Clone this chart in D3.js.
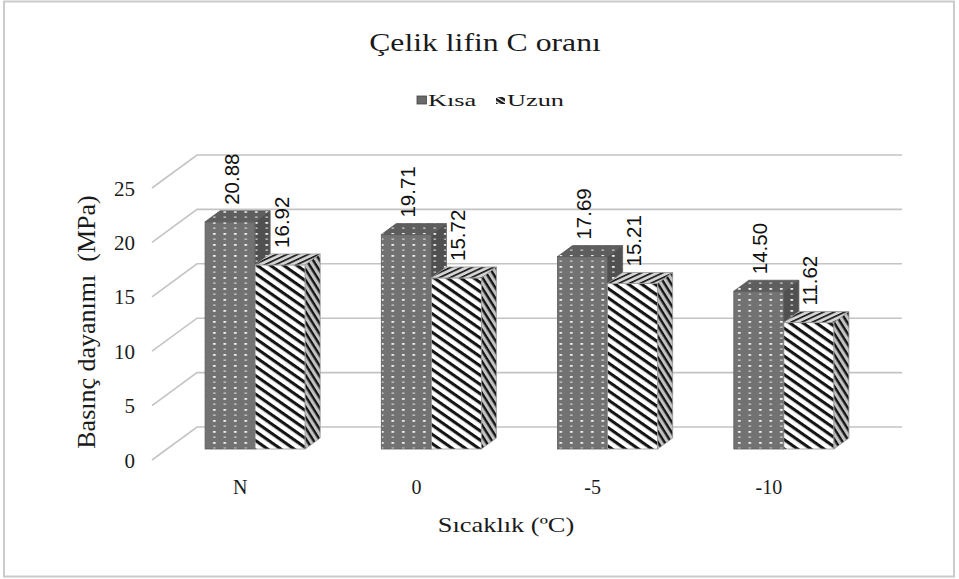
<!DOCTYPE html>
<html>
<head>
<meta charset="utf-8">
<script src="https://cdn.jsdelivr.net/npm/d3@7"></script>
<style>
  body { margin:0; background:#fff; }
  svg { display:block; }
</style>
</head>
<body>
<div id="chart-area"></div>
<script>
// data
const categories=['N','0','-5','-10'];
const seriesNames=['Kısa','Uzun'];
const kisa=[20.88,19.71,17.69,14.50];
const uzun=[16.92,15.72,15.21,11.62];
const yTicks=[0,5,10,15,20,25];

const W=959,H=579;

// back wall / floor geometry (oblique 3D look)
const wallX0=197, wallX1=902, wallY0=427;
const floorDx=-45, floorDy=33;   // front edge of the floor
const frontDx=-30, frontDy=22;   // front face of the bars
const depthDx=15, depthDy=-11;   // bar depth

const svg=d3.select('#chart-area').append('svg')
    .attr('width',W)
    .attr('height',H);

const defs=svg.append('defs');

// dotted fill for Kısa
function dots(id,bg){
    const p=defs.append('pattern').attr('id',id)
        .attr('patternUnits','userSpaceOnUse')
        .attr('width',10.5).attr('height',11);
    p.append('rect').attr('width',10.5).attr('height',11).attr('fill',bg);
    p.append('rect').attr('x',3).attr('y',2).attr('width',2.6).attr('height',1.8).attr('fill','#f4f4f4');
    p.append('rect').attr('x',3.2).attr('y',7.5).attr('width',2.2).attr('height',1.3).attr('fill','#dcdcdc');
}
dots('dotFront','#727272');
dots('dotTop','#5e5e5e');
dots('dotSide','#505050');

// diagonal stripes for Uzun
function stripes(id,bg,angle,period,thick){
    const p=defs.append('pattern').attr('id',id)
        .attr('patternUnits','userSpaceOnUse')
        .attr('width',10).attr('height',period)
        .attr('patternTransform','rotate('+angle+')');
    p.append('rect').attr('width',10).attr('height',period).attr('fill',bg);
    p.append('rect').attr('y',0).attr('width',10).attr('height',thick).attr('fill','#141414');
}
stripes('strFront','#ffffff',35,7.6,3.1);
stripes('strSide','#c2c2c2',58,5.6,2.4);
stripes('strTop','#d4d4d4',-25,4.5,1.6);
stripes('strLegend','#ffffff',32,4,2.6);

// outer border
svg.append('rect')
    .attr('x',4).attr('y',1.5)
    .attr('width',950).attr('height',575)
    .attr('fill','#fff')
    .attr('stroke','#cbcbcb')
    .attr('stroke-width',2);

// scales
const x0=d3.scaleBand()
    .domain(categories)
    .range([wallX0,wallX1])
    .paddingInner(0.432)
    .paddingOuter(0.216);

const x1=d3.scaleBand()
    .domain(seriesNames)
    .range([0,x0.bandwidth()]);

const y=d3.scaleLinear()
    .domain([0,25])
    .range([0,272]);

const g=svg.append('g');

// gridlines: diagonal on the floor side, horizontal on the back wall
g.selectAll('.grid')
    .data(yTicks)
    .enter().append('path')
    .attr('class','grid')
    .attr('d',d=>{
        const yb=wallY0-y(d);
        return 'M'+(wallX0+floorDx)+','+(yb+floorDy)+'L'+wallX0+','+yb+'L'+wallX1+','+yb;
    })
    .attr('fill','none')
    .attr('stroke','#c4c4c4')
    .attr('stroke-width',1.6);

// y tick labels
g.selectAll('.ylab')
    .data(yTicks)
    .enter().append('text')
    .attr('class','ylab')
    .attr('x',135)
    .attr('y',d=>wallY0+floorDy-y(d)+7.5)
    .attr('text-anchor','end')
    .attr('font-family','"Liberation Serif", "Times New Roman", serif')
    .attr('font-size','21px')
    .attr('fill','#1a1a1a')
    .text(d=>d);

// bars
const rows=[];
categories.forEach((c,i)=>{
    rows.push({cat:c,series:'Kısa',value:kisa[i]});
    rows.push({cat:c,series:'Uzun',value:uzun[i]});
});

const fills={
    'Kısa':{front:'url(#dotFront)',top:'url(#dotTop)',side:'url(#dotSide)',stroke:'#5a5a5a'},
    'Uzun':{front:'url(#strFront)',top:'url(#strTop)',side:'url(#strSide)',stroke:'#9a9a9a'}
};

const baseY=wallY0+frontDy;
const bw=x1.bandwidth();

rows.forEach(d=>{
    const fx=x0(d.cat)+x1(d.series)+frontDx;
    const ft=baseY-y(d.value);
    const f=fills[d.series];
    const bar=g.append('g').attr('class','bar');

    bar.append('rect')
        .attr('x',fx).attr('y',ft)
        .attr('width',bw).attr('height',baseY-ft)
        .attr('fill',f.front)
        .attr('stroke',f.stroke).attr('stroke-width',0.8);

    bar.append('path')
        .attr('d','M'+fx+','+ft+'L'+(fx+depthDx)+','+(ft+depthDy)+'L'+(fx+bw+depthDx)+','+(ft+depthDy)+'L'+(fx+bw)+','+ft+'Z')
        .attr('fill',f.top)
        .attr('stroke',f.stroke).attr('stroke-width',0.8);

    bar.append('path')
        .attr('d','M'+(fx+bw)+','+ft+'L'+(fx+bw+depthDx)+','+(ft+depthDy)+'L'+(fx+bw+depthDx)+','+(baseY+depthDy)+'L'+(fx+bw)+','+baseY+'Z')
        .attr('fill',f.side)
        .attr('stroke',f.stroke).attr('stroke-width',0.8);

    // value label, rotated
    bar.append('text')
        .attr('transform','translate('+(fx+bw/2+1)+','+(ft-17)+') rotate(-90)')
        .attr('dominant-baseline','central')
        .attr('font-family','"Liberation Sans", Arial, sans-serif')
        .attr('font-size','20.5px')
        .attr('fill','#111')
        .text(d3.format('.2f')(d.value));
});

// x tick labels on the front edge of the floor
g.selectAll('.xlab')
    .data(categories)
    .enter().append('text')
    .attr('class','xlab')
    .attr('x',d=>x0(d)+x0.bandwidth()/2+floorDx)
    .attr('y',494)
    .attr('text-anchor','middle')
    .attr('font-family','"Liberation Serif", "Times New Roman", serif')
    .attr('font-size','20px')
    .attr('fill','#1a1a1a')
    .text(d=>d);

// title
svg.append('text')
    .attr('transform','translate(485,51) scale(1.22,1)')
    .attr('text-anchor','middle')
    .attr('font-family','"Liberation Serif", "Times New Roman", serif')
    .attr('font-size','26px')
    .attr('fill','#1a1a1a')
    .text('Çelik lifin C oranı');

// legend
svg.append('rect')
    .attr('x',417).attr('y',96)
    .attr('width',9.5).attr('height',8)
    .attr('fill','#6a6a6a')
    .attr('stroke','#444').attr('stroke-width',0.8);
svg.append('text')
    .attr('transform','translate(428,106) scale(1.55,1)')
    .attr('font-family','"Liberation Serif", "Times New Roman", serif')
    .attr('font-size','17px')
    .attr('fill','#1a1a1a')
    .text('Kısa');
svg.append('rect')
    .attr('x',496).attr('y',97)
    .attr('width',9).attr('height',7)
    .attr('fill','url(#strLegend)');
svg.append('text')
    .attr('transform','translate(507,106) scale(1.55,1)')
    .attr('font-family','"Liberation Serif", "Times New Roman", serif')
    .attr('font-size','17px')
    .attr('fill','#1a1a1a')
    .text('Uzun');

// axis titles
svg.append('text')
    .attr('transform','translate(95,322) rotate(-90)')
    .attr('text-anchor','middle')
    .attr('font-family','"Liberation Serif", "Times New Roman", serif')
    .attr('font-size','26px')
    .attr('fill','#1a1a1a')
    .style('white-space','pre')
    .text('Basınç dayanımı  (MPa)');

svg.append('text')
    .attr('transform','translate(506,532) scale(1.2,1)')
    .attr('text-anchor','middle')
    .attr('font-family','"Liberation Serif", "Times New Roman", serif')
    .attr('font-size','22px')
    .attr('fill','#1a1a1a')
    .text('Sıcaklık (ºC)');
</script>
</body>
</html>
